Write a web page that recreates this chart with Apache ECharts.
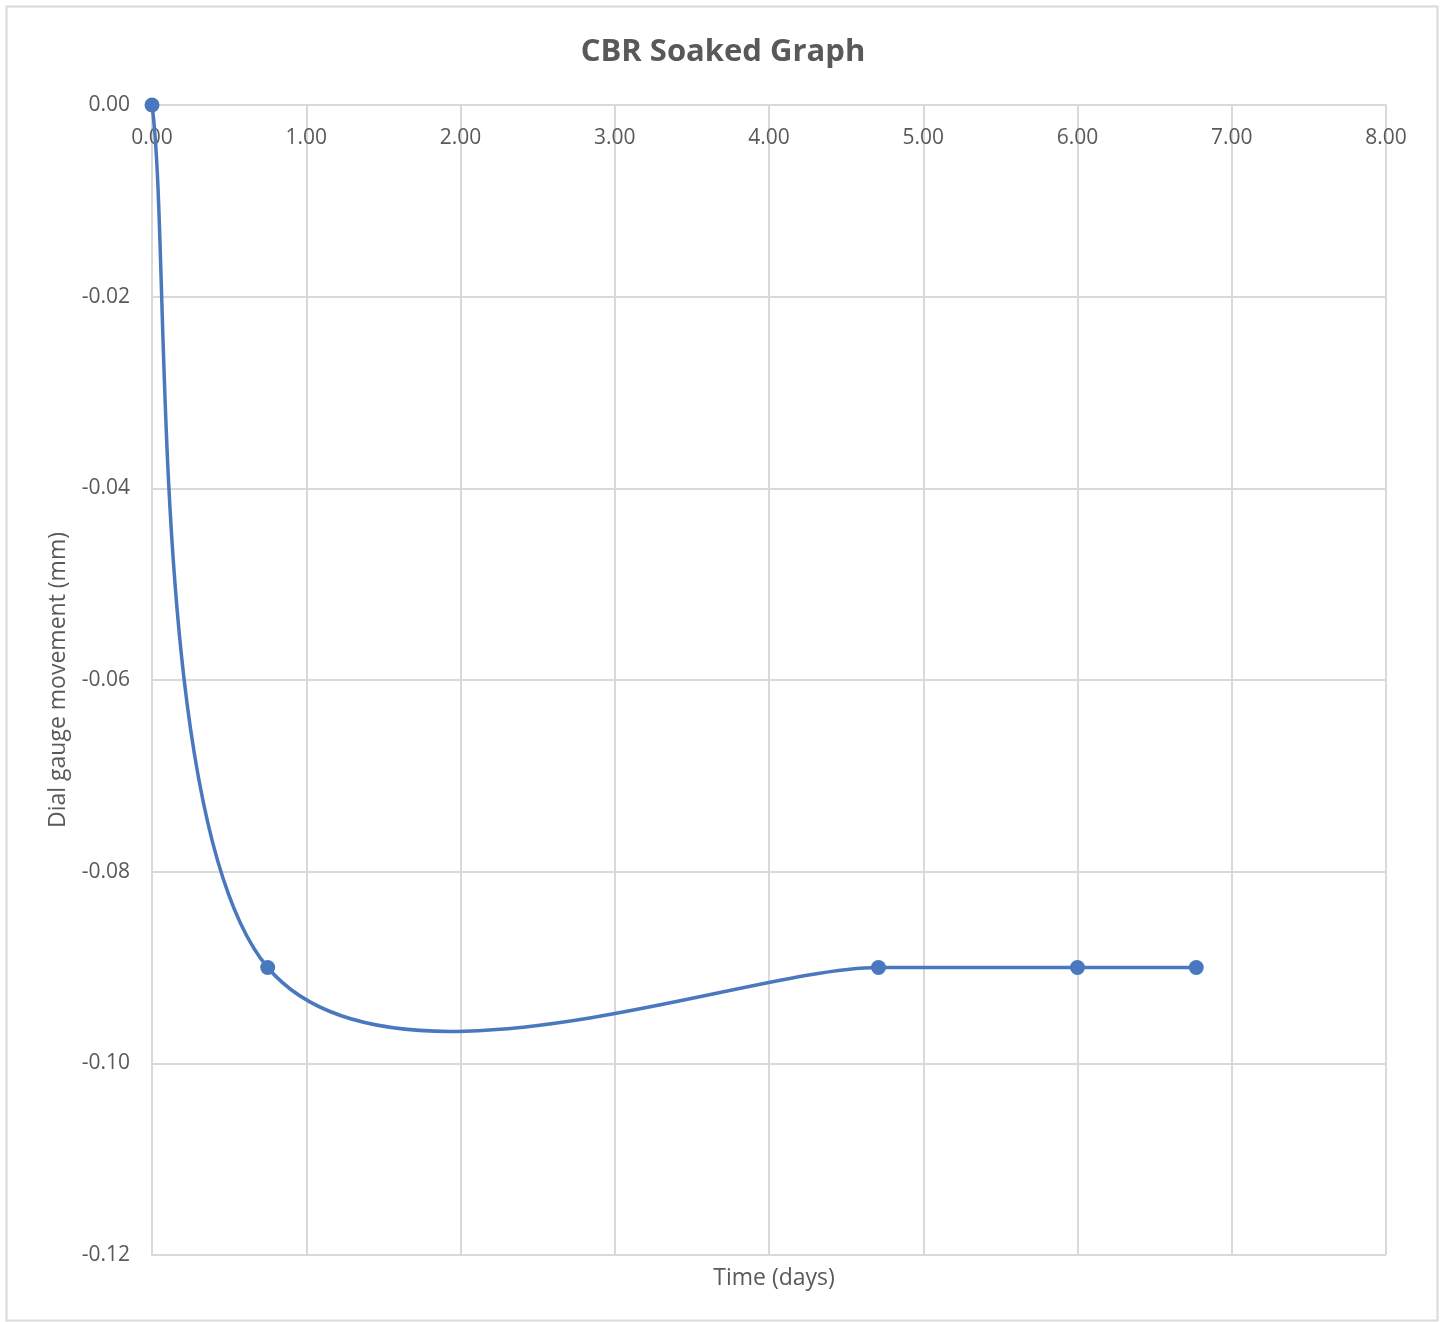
<!DOCTYPE html>
<html>
<head>
<meta charset="utf-8">
<script src="https://cdn.jsdelivr.net/npm/echarts@6/dist/echarts.min.js"></script>
<style>
  html, body { margin: 0; padding: 0; background: #fff; }
  #main { width: 1446px; height: 1322px; }
</style>
</head>
<body>
<div id="main"></div>
<script>
// time in days and dial gauge movement in mm
const timeDays = [0, 0.75, 4.71, 6.0, 6.77];
const dialMove = [0, -0.09, -0.09, -0.09, -0.09];

const textColor = "#595959";
const gridColor = "#d9d9d9";
const lineColor = "#4a78bf";

const points = timeDays.map((t, i) => [t, dialMove[i]]);

// spreadsheet-style smoothed line: each segment is a bezier with control
// points taken from the neighbouring points (tension 1/6), in pixel space
function renderSegment(params, api) {
  const i = params.dataIndex;
  const n = points.length;
  if (i >= n - 1) return null;
  const p = (k) => api.coord(points[Math.max(0, Math.min(n - 1, k))]);
  const p0 = p(i - 1), p1 = p(i), p2 = p(i + 1), p3 = p(i + 2);
  return {
    type: "bezierCurve",
    shape: {
      x1: p1[0], y1: p1[1],
      cpx1: p1[0] + (p2[0] - p0[0]) / 6,
      cpy1: p1[1] + (p2[1] - p0[1]) / 6,
      cpx2: p2[0] - (p3[0] - p1[0]) / 6,
      cpy2: p2[1] - (p3[1] - p1[1]) / 6,
      x2: p2[0], y2: p2[1],
    },
    style: { fill: null, stroke: lineColor, lineWidth: 3.5 },
  };
}

const chart = echarts.init(document.getElementById("main"));
chart.setOption({
  backgroundColor: "#fff",
  animation: false,
  title: [
    {
      text: "CBR Soaked Graph",
      left: "center",
      top: 32,
      textStyle: { color: textColor, fontSize: 31, fontWeight: "bold", fontFamily: "Open Sans" },
    },
    {
      text: "Time (days)",
      left: 769,
      textAlign: "center",
      top: 1262,
      textStyle: { color: textColor, fontSize: 23, fontWeight: "normal", fontFamily: "Open Sans" },
    },
  ],
  graphic: [
    {
      type: "rect",
      shape: { x: 6.5, y: 6.5, width: 1431, height: 1314 },
      style: { fill: "none", stroke: gridColor, lineWidth: 2 },
      silent: true,
    },
  ],
  grid: { left: 152, right: 60, top: 105, bottom: 67 },
  xAxis: {
    type: "value",
    position: "top",
    min: 0,
    max: 8,
    interval: 1,
    axisLine: { lineStyle: { color: gridColor, width: 2 } },
    axisTick: { show: false },
    splitLine: { show: true, lineStyle: { color: gridColor, width: 2 } },
    axisLabel: {
      inside: true,
      color: textColor,
      fontSize: 21,
      fontFamily: "Open Sans",
      margin: 23,
      formatter: (v) => v.toFixed(2),
    },
  },
  yAxis: {
    type: "value",
    min: -0.12,
    max: 0,
    interval: 0.02,
    name: "Dial gauge movement (mm)",
    nameLocation: "middle",
    nameRotate: 90,
    nameGap: 82,
    nameTextStyle: { color: textColor, fontSize: 23, fontFamily: "Open Sans" },
    axisLine: { show: true, lineStyle: { color: gridColor, width: 2 } },
    axisTick: { show: false },
    splitLine: { show: true, lineStyle: { color: gridColor, width: 2 } },
    axisLabel: {
      color: textColor,
      fontSize: 21,
      fontFamily: "Open Sans",
      margin: 22,
      formatter: (v) => v.toFixed(2),
    },
  },
  series: [
    {
      type: "custom",
      renderItem: renderSegment,
      data: points,
      clip: false,
      z: 4,
    },
    {
      type: "scatter",
      data: points,
      symbol: "circle",
      symbolSize: 15,
      itemStyle: { color: lineColor, opacity: 1 },
      z: 5,
    },
  ],
});
</script>
</body>
</html>
